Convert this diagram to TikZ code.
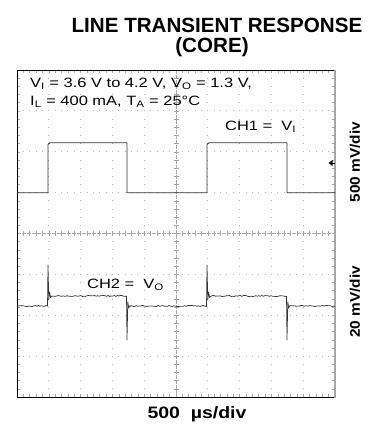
\documentclass[tikz,border=0pt]{standalone}
\usepackage{fontspec}
\setmainfont{Liberation Sans}
\newfontfamily\widefont{Liberation Sans}[FakeStretch=1.22]
\newfontfamily\divfont{Liberation Sans}[FakeStretch=1.1]
\newfontfamily\timefont{Liberation Sans}[FakeStretch=1.18]

\tikzset{
  headtext/.style={inner sep=0pt, font=\bfseries\fontsize{20.6}{24}\selectfont},
  scopetext/.style={inner sep=0pt, font=\widefont\fontsize{13.5}{16}\selectfont},
  divtext/.style={inner sep=0pt, font=\divfont\bfseries\fontsize{14}{16}\selectfont},
  timetext/.style={inner sep=0pt, font=\timefont\bfseries\fontsize{16.5}{19}\selectfont},
  dotgrid/.style={gray!60, line width=0.8pt},
  tickline/.style={gray!70, line width=0.5pt},
  trace/.style={black!80, line width=0.9pt, line join=round}
}

\begin{document}
\begin{tikzpicture}[x=1pt, y=-1pt]
  \useasboundingbox (0,0) rectangle (375,426);

  \node[headtext, anchor=base] (title) at (217, 32) {LINE TRANSIENT RESPONSE};
  \node[headtext, anchor=base] (core) at (212, 52) {(CORE)};

  % graticule: 10 x 8 divisions
  \foreach \i in {1,2,3,4,6,7,8,9}
    \draw[dotgrid, dash pattern=on 0.8pt off 7.375pt, dash phase=0.4pt]
      ({17+31.8*\i}, 70) -- ({17+31.8*\i}, 397);
  \foreach \j in {1,2,3,5,6,7}
    \draw[dotgrid, dash pattern=on 0.8pt off 5.56pt, dash phase=0.4pt]
      (17, {70+40.875*\j}) -- (335, {70+40.875*\j});

  \draw[tickline, dash pattern=on 4pt off 1pt] (17, 233.5) -- (335, 233.5);
  \draw[tickline, dash pattern=on 4pt off 1pt] (176, 70) -- (176, 397);
  \foreach \k in {1,...,49} {
    \draw[tickline] ({17+6.36*\k}, 231) -- ({17+6.36*\k}, 236);
    \draw[tickline] ({17+6.36*\k}, 70) -- ({17+6.36*\k}, 73);
    \draw[tickline] ({17+6.36*\k}, 397) -- ({17+6.36*\k}, 394);
  }
  \foreach \k in {1,...,39} {
    \draw[tickline] (173.5, {70+8.175*\k}) -- (178.5, {70+8.175*\k});
    \draw[tickline] (17, {70+8.175*\k}) -- (20, {70+8.175*\k});
    \draw[tickline] (335, {70+8.175*\k}) -- (332, {70+8.175*\k});
  }

  \draw[black, line width=1pt] (335, 70) -- (17, 70) -- (17, 397) -- (335, 397);
  \draw[gray!70, line width=2pt] (335, 69.5) -- (335, 397.5);

  % CH1
  \draw[trace] (17, 192.7) -- (48, 192.7) -- (48, 144.5) -- (50, 142.7) -- (127, 142.7)
    -- (127, 192.7) -- (207, 192.7) -- (207, 144.5) -- (209, 142.7) -- (287, 142.7)
    -- (287, 192.7) -- (335, 192.7);
  \fill[black] (328.5, 163) -- (332.5, 160) -- (332.5, 166) -- cycle;
  \draw[black, line width=1pt] (332, 163) -- (335, 163);

  % CH2
  \pgfmathsetseed{11}
  \draw[trace, line width=0.7pt] plot[domain=17:47.5, samples=21] (\x, {306+0.6*rand})
    -- (48, 265) -- (48.8, 300) -- (49.6, 292) -- (50.6, 297.5) -- (52, 296)
    -- plot[domain=52:126.5, samples=50] (\x, {296+0.6*rand})
    -- (127, 340) -- (127.8, 302) -- (128.7, 308) -- (130, 305.5)
    -- plot[domain=130:206.5, samples=50] (\x, {306+0.6*rand})
    -- (207, 265) -- (207.8, 300) -- (208.6, 292) -- (209.6, 297.5) -- (211, 296)
    -- plot[domain=211:286.5, samples=50] (\x, {296+0.6*rand})
    -- (287, 340) -- (287.8, 302) -- (288.7, 308) -- (290, 305.5)
    -- plot[domain=290:335, samples=30] (\x, {306+0.6*rand});

  \node[scopetext, anchor=base west] (cond1) at (30, 87.5)
    {V\textsubscript{I} = 3.6 V to 4.2 V, V\textsubscript{O} = 1.3 V,};
  \node[scopetext, anchor=base west] (cond2) at (30, 105)
    {I\textsubscript{L} = 400 mA, T\textsubscript{A} = 25°C};
  \node[scopetext, anchor=base west] (ch1) at (225, 130) {CH1 = \ V\textsubscript{I}};
  \node[scopetext, anchor=base west] (ch2) at (87, 288.5) {CH2 = \ V\textsubscript{O}};

  \node[divtext, rotate=90] (vdiv1) at (355, 162) {500 mV/div};
  \node[divtext, rotate=90] (vdiv2) at (355, 302) {20 mV/div};
  \node[timetext, anchor=base] (hdiv) at (197, 418) {500 \ µs/div};
\end{tikzpicture}
\end{document}
